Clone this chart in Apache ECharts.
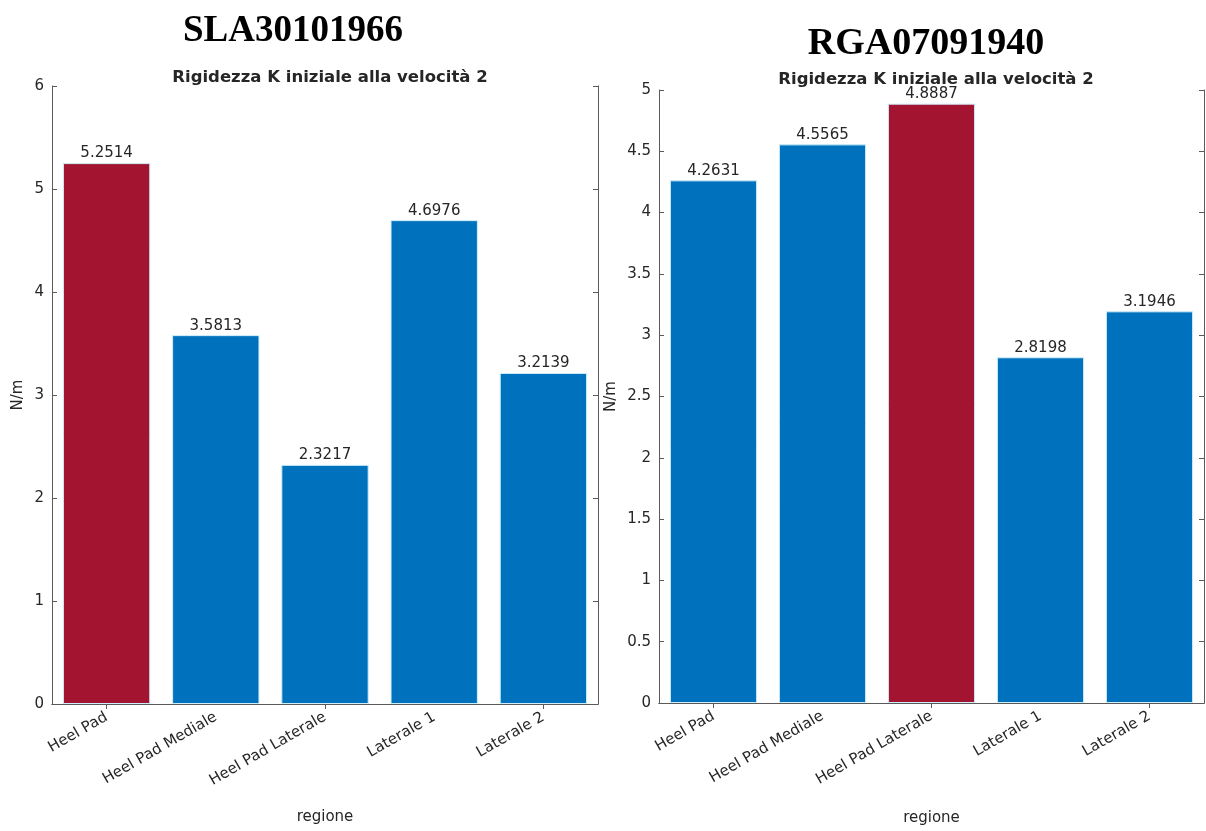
<!DOCTYPE html>
<html>
<head>
<meta charset="utf-8">
<script src="https://cdn.jsdelivr.net/npm/echarts@6/dist/echarts.min.js"></script>
<style>
  html, body { margin: 0; padding: 0; background: #fff; }
  #chart { width: 1206px; height: 831px; }
</style>
</head>
<body>
<div id="chart"></div>
<script>
// Regions measured on each subject
const regioni = ['Heel Pad', 'Heel Pad Mediale', 'Heel Pad Laterale', 'Laterale 1', 'Laterale 2'];

// Initial stiffness K at speed 2 (N/m)
const rigidezzaSLA = [5.2514, 3.5813, 2.3217, 4.6976, 3.2139];
const rigidezzaRGA = [4.2631, 4.5565, 4.8887, 2.8198, 3.1946];

// Subject codes and shared titles
const soggetti = ['SLA30101966', 'RGA07091940'];
const titoloGrafico = 'Rigidezza K iniziale alla velocità 2';
const etichettaY = 'N/m';
const etichettaX = 'regione';

// Index of the highlighted (maximum) region for each subject
const evidenziatoSLA = 0;
const evidenziatoRGA = 2;

const BLU = '#0072BD';
const ROSSO = '#A2142F';
const TESTO = '#262626';
const ASSE = '#5a5a5a';
const FONT = 'DejaVu Sans, Verdana, sans-serif';
const SERIF = 'Liberation Serif, Times New Roman, serif';

function barData(values, hi) {
  return values.map((v, i) => ({
    value: v,
    itemStyle: { color: i === hi ? ROSSO : BLU }
  }));
}

const grids = [
  { left: 52, top: 86, width: 546, height: 618 },
  { left: 659, top: 90, width: 545, height: 619 }
];

function xAxes(gi, gap) {
  return [
    {
      type: 'category', gridIndex: gi, data: regioni, position: 'bottom',
      axisLine: { show: true, lineStyle: { color: ASSE, width: 1 } },
      axisTick: { show: true, inside: true, alignWithLabel: true, length: 5, lineStyle: { color: ASSE } },
      axisLabel: { rotate: 30, color: TESTO, fontFamily: FONT, fontSize: 15, margin: 12, interval: 0 },
      name: etichettaX, nameLocation: 'middle', nameGap: gap,
      nameTextStyle: { color: TESTO, fontFamily: FONT, fontSize: 15 }
    },
    {
      type: 'category', gridIndex: gi, data: regioni, position: 'top',
      axisLine: { show: true, lineStyle: { color: ASSE, width: 1 } },
      axisTick: { show: true, inside: true, alignWithLabel: true, length: 5, lineStyle: { color: ASSE } },
      axisLabel: { show: false }
    }
  ];
}

function yAxes(gi, max, interval, gap) {
  return [
    {
      type: 'value', gridIndex: gi, min: 0, max: max, interval: interval, position: 'left',
      axisLine: { show: true, lineStyle: { color: ASSE, width: 1 } },
      axisTick: { show: true, inside: true, length: 5, lineStyle: { color: ASSE } },
      splitLine: { show: false },
      axisLabel: { color: TESTO, fontFamily: FONT, fontSize: 15, margin: 8 },
      name: etichettaY, nameLocation: 'middle', nameGap: gap, nameRotate: 90,
      nameTextStyle: { color: TESTO, fontFamily: FONT, fontSize: 15 }
    },
    {
      type: 'value', gridIndex: gi, min: 0, max: max, interval: interval, position: 'right',
      axisLine: { show: true, lineStyle: { color: ASSE, width: 1 } },
      axisTick: { show: true, inside: true, length: 5, lineStyle: { color: ASSE } },
      splitLine: { show: false },
      axisLabel: { show: false }
    }
  ];
}

function barSeries(gi, values, hi) {
  return {
    type: 'bar', xAxisIndex: gi * 2, yAxisIndex: gi * 2,
    data: barData(values, hi),
    barWidth: '80%',
    label: {
      show: true, position: 'top', distance: 2,
      color: TESTO, fontFamily: FONT, fontSize: 15,
      formatter: p => p.value.toFixed(4)
    },
    itemStyle: { borderColor: '#cdeefa', borderWidth: 1 }
  };
}

const chart = echarts.init(document.getElementById('chart'), null, { renderer: 'canvas' });
chart.setOption({
  backgroundColor: '#ffffff',
  animation: false,
  title: [
    { text: soggetti[0], left: 288, top: 8, textAlign: 'center',
      textStyle: { fontFamily: SERIF, fontWeight: 'bold', fontSize: 37, color: '#000' } },
    { text: soggetti[1], left: 921, top: 20, textAlign: 'center',
      textStyle: { fontFamily: SERIF, fontWeight: 'bold', fontSize: 38, color: '#000' } },
    { text: titoloGrafico, left: 325, top: 64, textAlign: 'center',
      textStyle: { fontFamily: FONT, fontWeight: 'bold', fontSize: 16.5, color: TESTO } },
    { text: titoloGrafico, left: 931, top: 66, textAlign: 'center',
      textStyle: { fontFamily: FONT, fontWeight: 'bold', fontSize: 16.5, color: TESTO } }
  ],
  grid: grids.map(g => Object.assign({ containLabel: false }, g)),
  xAxis: [...xAxes(0, 106), ...xAxes(1, 108)],
  yAxis: [...yAxes(0, 6, 1, 26), ...yAxes(1, 5, 0.5, 40)],
  series: [
    barSeries(0, rigidezzaSLA, evidenziatoSLA),
    barSeries(1, rigidezzaRGA, evidenziatoRGA)
  ]
});
</script>
</body>
</html>
